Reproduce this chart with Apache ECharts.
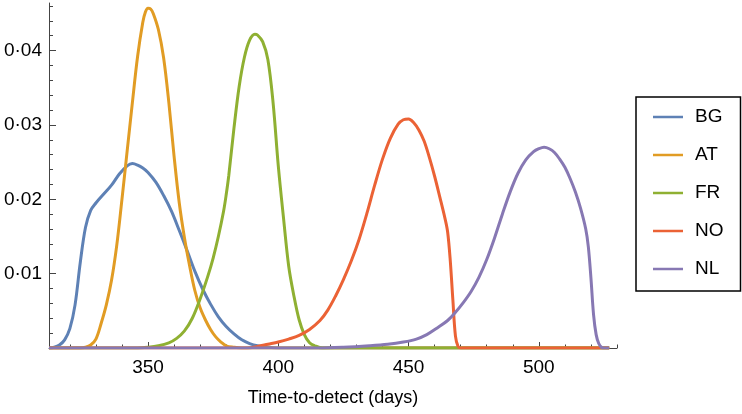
<!DOCTYPE html>
<html>
<head>
<meta charset="utf-8">
<script src="https://cdn.jsdelivr.net/npm/echarts@6/dist/echarts.min.js"></script>
<style>
  html, body { margin: 0; padding: 0; background: #fff; }
  #chart { width: 742px; height: 414px; }
</style>
</head>
<body>
<div id="chart"></div>
<script>
// density curves, [days, density]
const BG = [[312,0],[314,0.0001],[316,0.0004],[318,0.0011],[320,0.0026],[322,0.0058],[324,0.0115],[326,0.0162],[328,0.0185],[330,0.0195],[333,0.0207],[336,0.0219],[339,0.0234],[342,0.0245],[344,0.0248],[346,0.0246],[348,0.0242],[350,0.0236],[353,0.0223],[356,0.0205],[359,0.0184],[362,0.0158],[365,0.0131],[368,0.0103],[371,0.0079],[374,0.0059],[377,0.0042],[380,0.0029],[383,0.0019],[386,0.0011],[389,0.0006],[392,0.0003],[396,0.0001],[400,0],[527,0]];
const AT = [[312,0],[324,0],[326,0.0001],[328,0.0004],[330,0.0012],[332,0.0033],[334,0.0058],[336,0.0091],[338,0.0138],[340,0.0200],[342,0.0265],[344,0.0330],[346,0.0392],[348,0.0438],[349,0.0452],[350,0.0457],[351,0.0456],[352,0.0450],[354,0.0428],[356,0.0390],[358,0.0330],[360,0.0258],[362,0.0195],[364,0.0148],[366,0.0110],[368,0.0077],[370,0.0054],[372,0.0038],[374,0.0025],[376,0.0015],[378,0.0008],[380,0.0003],[383,0.0001],[386,0],[527,0]];
const FR = [[312,0],[346,0],[350,0.0001],[354,0.0003],[358,0.0007],[361,0.0013],[364,0.0023],[367,0.0040],[370,0.0066],[373,0.0097],[375,0.0121],[377,0.0150],[379,0.0184],[380,0.0206],[381,0.0232],[383,0.0296],[385,0.0352],[387,0.0391],[389,0.0414],[391,0.0422],[392,0.0421],[394,0.0412],[396,0.0388],[398,0.0330],[400,0.0245],[402,0.0175],[404,0.0110],[406,0.0070],[408,0.0038],[410,0.0018],[412,0.0007],[414,0.0003],[417,0],[527,0]];
const NO = [[312,0],[388,0],[392,0.0002],[396,0.0005],[400,0.0008],[404,0.0012],[408,0.0017],[412,0.0025],[416,0.0037],[419,0.0051],[422,0.0070],[425,0.0092],[428,0.0117],[431,0.0146],[434,0.0181],[437,0.0219],[440,0.0254],[443,0.0282],[446,0.0301],[448,0.0307],[450,0.0308],[452,0.0303],[454,0.0293],[456,0.0278],[458,0.0256],[460,0.0231],[462,0.0203],[464,0.0174],[465,0.0156],[466,0.0118],[467,0.0065],[468,0.0016],[469,0.0002],[470,0],[527,0]];
const NL = [[312,0],[415,0],[425,0.0001],[435,0.0003],[442,0.0005],[448,0.0008],[453,0.0012],[457,0.0018],[461,0.0027],[465,0.0037],[468,0.0048],[471,0.0061],[474,0.0076],[477,0.0095],[480,0.0119],[483,0.0148],[486,0.0180],[489,0.0210],[492,0.0235],[495,0.0253],[498,0.0264],[500,0.0268],[502,0.0270],[504,0.0268],[506,0.0263],[508,0.0254],[510,0.0243],[512,0.0228],[514,0.0210],[516,0.0188],[518,0.0160],[519,0.0136],[520,0.0094],[521,0.0045],[522,0.0018],[523,0.0006],[524,0.0001],[525,0],[527,0]];

const names = ['BG', 'AT', 'FR', 'NO', 'NL'];
const curves = [BG, AT, FR, NO, NL];
const colors = ['#5E81B5', '#E19C24', '#8FB032', '#EB6235', '#8778B3'];

const xLabels = [350, 400, 450, 500];
const xMinor = [320, 330, 340, 360, 370, 380, 390, 410, 420, 430, 440, 460, 470, 480, 490, 510, 520, 530];
const yLabels = [0.01, 0.02, 0.03, 0.04];
const yMinor = [0.002, 0.004, 0.006, 0.008, 0.012, 0.014, 0.016, 0.018, 0.022, 0.024, 0.026, 0.028,
  0.032, 0.034, 0.036, 0.038, 0.042, 0.044, 0.046];

const FONT = '"Liberation Sans", Arial, sans-serif';
const axisColor = '#444';

const chart = echarts.init(document.getElementById('chart'));

const option = {
  animation: false,
  backgroundColor: '#fff',
  textStyle: { fontFamily: FONT },
  grid: { left: 49, right: 125, top: 3, bottom: 66, outerBoundsMode: 'none' },
  legend: {
    orient: 'vertical',
    left: 636,
    top: 97,
    icon: 'rect',
    itemWidth: 30,
    itemHeight: 2.5,
    itemGap: 18,
    padding: [10, 17, 12, 17],
    borderColor: '#000',
    borderWidth: 1.5,
    textStyle: { fontSize: 19, lineHeight: 20, color: '#000', fontFamily: FONT, padding: [0, 0, 0, 7] },
    data: names
  },
  xAxis: [
    {
      type: 'value',
      min: 312,
      max: 530,
      name: 'Time-to-detect (days)',
      nameLocation: 'middle',
      nameGap: 41,
      nameTextStyle: { fontSize: 18, color: '#000', fontFamily: FONT },
      axisLine: { onZero: false, lineStyle: { color: axisColor, width: 1 } },
      axisTick: { inside: true, length: 6, customValues: xLabels, lineStyle: { color: axisColor } },
      axisLabel: { customValues: xLabels, fontSize: 19, lineHeight: 19, margin: 10, color: '#000' },
      splitLine: { show: false }
    },
    {
      type: 'value',
      position: 'bottom',
      min: 312,
      max: 530,
      axisLine: { show: false, onZero: false },
      axisTick: { inside: true, length: 3.5, customValues: xMinor, lineStyle: { color: axisColor } },
      axisLabel: { show: false },
      splitLine: { show: false }
    }
  ],
  yAxis: [
    {
      type: 'value',
      min: 0,
      max: 0.0464,
      axisLine: { show: true, lineStyle: { color: axisColor, width: 1 } },
      axisTick: { inside: true, length: 7, customValues: yLabels, lineStyle: { color: axisColor } },
      axisLabel: {
        customValues: yLabels,
        fontSize: 19,
        margin: 7,
        color: '#000',
        formatter: v => v.toFixed(2).replace('.', '\u00b7')
      },
      splitLine: { show: false }
    },
    {
      type: 'value',
      position: 'left',
      min: 0,
      max: 0.0464,
      axisLine: { show: false },
      axisTick: { inside: true, length: 4, customValues: yMinor, lineStyle: { color: axisColor } },
      axisLabel: { show: false },
      splitLine: { show: false }
    }
  ],
  series: curves.map((d, i) => ({
    name: names[i],
    type: 'line',
    xAxisIndex: 0,
    yAxisIndex: 0,
    data: d,
    smooth: 0.35,
    showSymbol: false,
    symbol: 'none',
    color: colors[i],
    lineStyle: { width: 3, color: colors[i] }
  }))
};

chart.setOption(option);
</script>
</body>
</html>
